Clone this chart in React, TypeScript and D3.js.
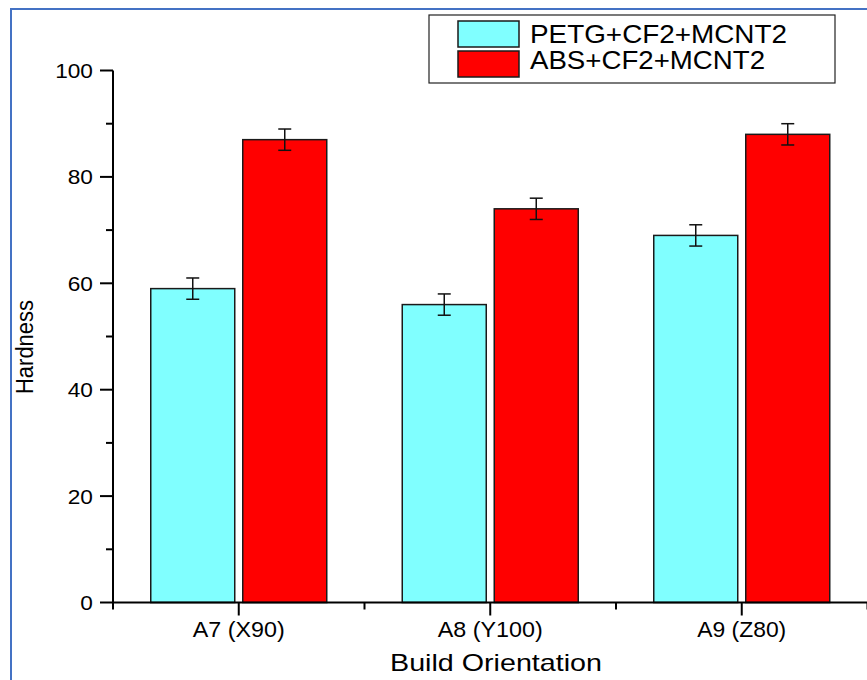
import React from "react";
import * as d3 from "d3";

const categories = ["A7 (X90)", "A8 (Y100)", "A9 (Z80)"];
const seriesNames = ["PETG+CF2+MCNT2", "ABS+CF2+MCNT2"];
const petgValues = [59, 56, 69];
const absValues = [87, 74, 88];
const petgErrors = [2, 2, 2];
const absErrors = [2, 2, 2];
const yMajorTicks = [0, 20, 40, 60, 80, 100];
const yMinorTicks = [10, 30, 50, 70, 90];
const seriesColors = ["#80FFFF", "#FF0000"];

const W = 867;
const H = 680;
const FONT = "'Liberation Sans', Arial, sans-serif";

export default function App() {
  const x = d3.scaleBand<string>().domain(categories).range([113, 867.5]).paddingInner(0).paddingOuter(0);
  const y = d3.scaleLinear().domain([0, 100]).range([602.5, 70.5]);
  const groupW = 176;
  const inner = d3.scaleBand<string>().domain(seriesNames).range([0, groupW]).paddingInner(8 / 92).paddingOuter(0);
  const values = [petgValues, absValues];
  const errors = [petgErrors, absErrors];
  const bw = inner.bandwidth();
  const labelLens = [92, 105, 89];
  const bounds = [...categories.map((c) => x(c) as number), 867.5];

  return (
    <svg width={W} height={H} style={{ position: "absolute", left: 0, top: 0, background: "#fff" }} fontFamily={FONT}>
      <rect x={0} y={0} width={W} height={H} fill="#fff" />
      {/* frame */}
      <path d={`M11,${H} L11,9 L${W},9`} fill="none" stroke="#4472C4" strokeWidth={2} />

      {/* bars */}
      {categories.map((c, ci) => {
        const cx = (x(c) as number) + x.bandwidth() / 2;
        return seriesNames.map((s, si) => {
          const bx = cx - groupW / 2 + (inner(s) as number);
          const v = values[si][ci];
          const e = errors[si][ci];
          const mx = bx + bw / 2;
          return (
            <g key={c + s}>
              <rect x={bx} y={y(v)} width={bw} height={y(0) - y(v)} fill={seriesColors[si]} stroke="#1a1a1a" strokeWidth={1.5} />
              <line x1={mx} x2={mx} y1={y(v + e)} y2={y(v - e)} stroke="#111" strokeWidth={1.5} />
              <line x1={mx - 6.5} x2={mx + 6.5} y1={y(v + e)} y2={y(v + e)} stroke="#111" strokeWidth={1.5} />
              <line x1={mx - 6.5} x2={mx + 6.5} y1={y(v - e)} y2={y(v - e)} stroke="#111" strokeWidth={1.5} />
            </g>
          );
        });
      })}

      {/* y axis */}
      <line x1={113} x2={113} y1={y(0)} y2={y(100)} stroke="#000" strokeWidth={2} />
      {yMajorTicks.map((t) => (
        <g key={"ym" + t}>
          <line x1={100} x2={113} y1={y(t)} y2={y(t)} stroke="#000" strokeWidth={2} />
          <text x={93} y={y(t) + 7.5} textAnchor="end" fontSize={21} fill="#000" transform={`translate(93,0) scale(1.08,1) translate(-93,0)`}>
            {t}
          </text>
        </g>
      ))}
      {yMinorTicks.map((t) => (
        <line key={"yn" + t} x1={106} x2={113} y1={y(t)} y2={y(t)} stroke="#000" strokeWidth={2} />
      ))}

      {/* x axis */}
      <line x1={112} x2={867.5} y1={y(0)} y2={y(0)} stroke="#000" strokeWidth={2} />
      {categories.map((c, ci) => {
        const cx = (x(c) as number) + x.bandwidth() / 2;
        return (
          <g key={"xt" + c}>
            <line x1={cx} x2={cx} y1={y(0)} y2={y(0) + 13} stroke="#000" strokeWidth={2} />
            <text x={cx} y={637} textAnchor="middle" fontSize={22} textLength={labelLens[ci]} lengthAdjust="spacingAndGlyphs" fill="#000">
              {c}
            </text>
          </g>
        );
      })}
      {bounds.map((b, i) => (
        <line key={"xn" + i} x1={b} x2={b} y1={y(0)} y2={y(0) + 7} stroke="#000" strokeWidth={2} />
      ))}

      {/* axis titles */}
      <text x={496} y={671} textAnchor="middle" fontSize={24} textLength={212} lengthAdjust="spacingAndGlyphs" fill="#000">
        Build Orientation
      </text>
      <text transform={`translate(33,347) scale(1.1,1) rotate(-90)`} x={0} y={0} textAnchor="middle" fontSize={22} fill="#000">
        Hardness
      </text>

      {/* legend */}
      <rect x={429} y={15} width={406} height={68} fill="#fff" stroke="#222" strokeWidth={1.2} />
      {seriesNames.map((s, si) => (
        <g key={"lg" + s}>
          <rect x={458} y={21 + si * 30} width={61} height={26} fill={seriesColors[si]} stroke="#1a1a1a" strokeWidth={1.5} />
          <text x={530} y={43 + si * 25.5} fontSize={25} textLength={si === 0 ? 257 : 235} lengthAdjust="spacingAndGlyphs" fill="#000">
            {s}
          </text>
        </g>
      ))}
    </svg>
  );
}
